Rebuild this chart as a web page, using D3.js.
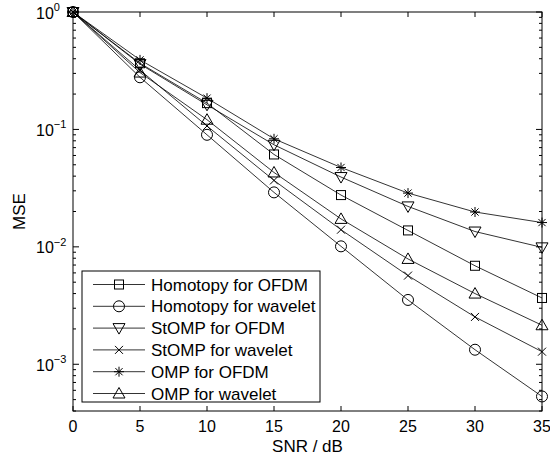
<!DOCTYPE html>
<html>
<head>
<meta charset="utf-8">
<script src="https://cdn.jsdelivr.net/npm/d3@7"></script>
<style>
    body { margin: 0; background: #fff; }
    text { font-family: "Liberation Sans", Arial, sans-serif; }
</style>
</head>
<body>
<svg id="mse" width="550" height="459"></svg>
<script>
var snr = [0, 5, 10, 15, 20, 25, 30, 35];

var homotopyOfdm = [1, 0.366, 0.1675, 0.0612, 0.0276, 0.0138, 0.0069, 0.00367];
var homotopyWavelet = [1, 0.278, 0.090, 0.0291, 0.0101, 0.00353, 0.00133, 0.000532];
var stompOfdm = [1, 0.36, 0.162, 0.074, 0.0393, 0.0221, 0.0135, 0.0099];
var stompWavelet = [1, 0.32, 0.107, 0.0368, 0.0140, 0.00569, 0.00253, 0.00128];
var ompOfdm = [1, 0.391, 0.1846, 0.0832, 0.0474, 0.0287, 0.0198, 0.0161];
var ompWavelet = [1, 0.305, 0.121, 0.043, 0.0173, 0.00789, 0.0040, 0.00215];

var seriesNames = [
    "Homotopy for OFDM",
    "Homotopy for wavelet",
    "StOMP for OFDM",
    "StOMP for wavelet",
    "OMP for OFDM",
    "OMP for wavelet"
];
var seriesMarkers = ["square", "circle", "tridown", "cross", "star", "triup"];
var seriesValues = [homotopyOfdm, homotopyWavelet, stompOfdm, stompWavelet, ompOfdm, ompWavelet];

var xTicks = [0, 5, 10, 15, 20, 25, 30, 35];
var yTickExps = [0, -1, -2, -3];

var svg = d3.select("svg#mse"),
    margin = { left: 73, top: 12, right: 8, bottom: 48 },
    width = +svg.attr("width") - margin.left - margin.right,
    height = +svg.attr("height") - margin.top - margin.bottom,
    g = svg.append("g").attr("transform", "translate(" + margin.left + "," + margin.top + ")"),
    x_scale = d3.scaleLinear().domain([0, 35]).range([0, width]),
    y_scale = d3.scaleLog().domain([4e-4, 1]).range([height, 0]);

// minor log ticks
var minor = [];
for (var e = -4; e <= 0; e++) {
    for (var k = 2; k <= 9; k++) {
        var v = k * Math.pow(10, e);
        if (v >= 4e-4 && v <= 1) minor.push(v);
    }
}

// x ticks (bottom and top, inward)
g.selectAll(".xtick")
    .data(xTicks)
    .enter()
    .append("g")
    .each(function (d) {
        var t = d3.select(this);
        t.append("line")
            .attr("x1", x_scale(d)).attr("x2", x_scale(d))
            .attr("y1", height).attr("y2", height - 5)
            .attr("stroke", "#000");
        t.append("line")
            .attr("x1", x_scale(d)).attr("x2", x_scale(d))
            .attr("y1", 0).attr("y2", 5)
            .attr("stroke", "#000");
        t.append("text")
            .attr("x", x_scale(d))
            .attr("y", height + 21)
            .attr("text-anchor", "middle")
            .style("font-size", "16px")
            .text(d);
    });

// y major ticks
g.selectAll(".ytick")
    .data(yTickExps)
    .enter()
    .append("g")
    .each(function (d) {
        var t = d3.select(this),
            yy = y_scale(Math.pow(10, d));
        t.append("line")
            .attr("x1", 0).attr("x2", 6)
            .attr("y1", yy).attr("y2", yy)
            .attr("stroke", "#000");
        t.append("line")
            .attr("x1", width).attr("x2", width - 6)
            .attr("y1", yy).attr("y2", yy)
            .attr("stroke", "#000");
        var txt = t.append("text")
            .attr("x", -37)
            .attr("y", yy + 6.5)
            .attr("text-anchor", "start")
            .style("font-size", "16px");
        txt.append("tspan").text("10");
        txt.append("tspan")
            .attr("dy", -7.5)
            .style("font-size", "11px")
            .text(d === 0 ? "0" : "\u2212" + (-d));
    });

// y minor ticks
g.selectAll(".yminor")
    .data(minor)
    .enter()
    .append("g")
    .each(function (d) {
        var t = d3.select(this),
            yy = y_scale(d);
        t.append("line")
            .attr("x1", 0).attr("x2", 3)
            .attr("y1", yy).attr("y2", yy)
            .attr("stroke", "#000");
        t.append("line")
            .attr("x1", width).attr("x2", width - 3)
            .attr("y1", yy).attr("y2", yy)
            .attr("stroke", "#000");
    });

// box
g.append("rect")
    .attr("width", width)
    .attr("height", height)
    .attr("fill", "none")
    .attr("stroke", "#000")
    .attr("stroke-width", 1);

// axis titles
svg.append("text")
    .attr("x", margin.left + width / 2)
    .attr("y", 452)
    .attr("text-anchor", "middle")
    .style("font-size", "17px")
    .text("SNR / dB");

svg.append("text")
    .attr("transform", "translate(25," + (margin.top + height / 2) + ") rotate(-90)")
    .attr("text-anchor", "middle")
    .style("font-size", "17px")
    .text("MSE");

function drawMarker(sel, type) {
    var s = sel.append("g").attr("fill", "none").attr("stroke", "#000").attr("stroke-width", 1);
    if (type === "square") {
        s.append("rect").attr("x", -4.5).attr("y", -4.5).attr("width", 9).attr("height", 9);
    } else if (type === "circle") {
        s.append("circle").attr("r", 5.5);
    } else if (type === "tridown") {
        s.append("path").attr("d", "M-6,-4.5L6,-4.5L0,6Z");
    } else if (type === "triup") {
        s.append("path").attr("d", "M-6,4.5L6,4.5L0,-6Z");
    } else if (type === "cross") {
        s.append("path").attr("d", "M-4,-4L4,4M-4,4L4,-4");
    } else if (type === "star") {
        s.append("path").attr("d", "M-5,0L5,0M0,-5L0,5M-3.6,-3.6L3.6,3.6M-3.6,3.6L3.6,-3.6");
    }
    return s;
}

var line = d3.line()
    .x((d, i) => x_scale(snr[i]))
    .y(d => y_scale(d));

var plot = g.append("g");

seriesValues.forEach(function (vals, si) {
    plot.append("path")
        .attr("d", line(vals))
        .attr("fill", "none")
        .attr("stroke", "#000")
        .attr("stroke-width", 0.8);

    plot.selectAll(".m" + si)
        .data(vals)
        .enter()
        .append("g")
        .attr("transform", (d, i) => "translate(" + x_scale(snr[i]) + "," + y_scale(d) + ")")
        .each(function () {
            drawMarker(d3.select(this), seriesMarkers[si]);
        });
});

// legend
var legend = svg.append("g")
    .attr("class", "legend")
    .attr("transform", "translate(82,271)");

legend.append("rect")
    .attr("width", 238)
    .attr("height", 131)
    .attr("fill", "#fff")
    .attr("stroke", "#000")
    .attr("stroke-width", 1);

seriesNames.forEach(function (name, i) {
    var yy = 13.5 + i * 21.8;
    legend.append("line")
        .attr("x1", 11).attr("x2", 63)
        .attr("y1", yy).attr("y2", yy)
        .attr("stroke", "#000")
        .attr("stroke-width", 0.8);
    drawMarker(legend.append("g").attr("transform", "translate(37," + yy + ")"), seriesMarkers[i]);
    legend.append("text")
        .attr("x", 69)
        .attr("y", yy + 6)
        .style("font-size", "17px")
        .text(name);
});
</script>
</body>
</html>
